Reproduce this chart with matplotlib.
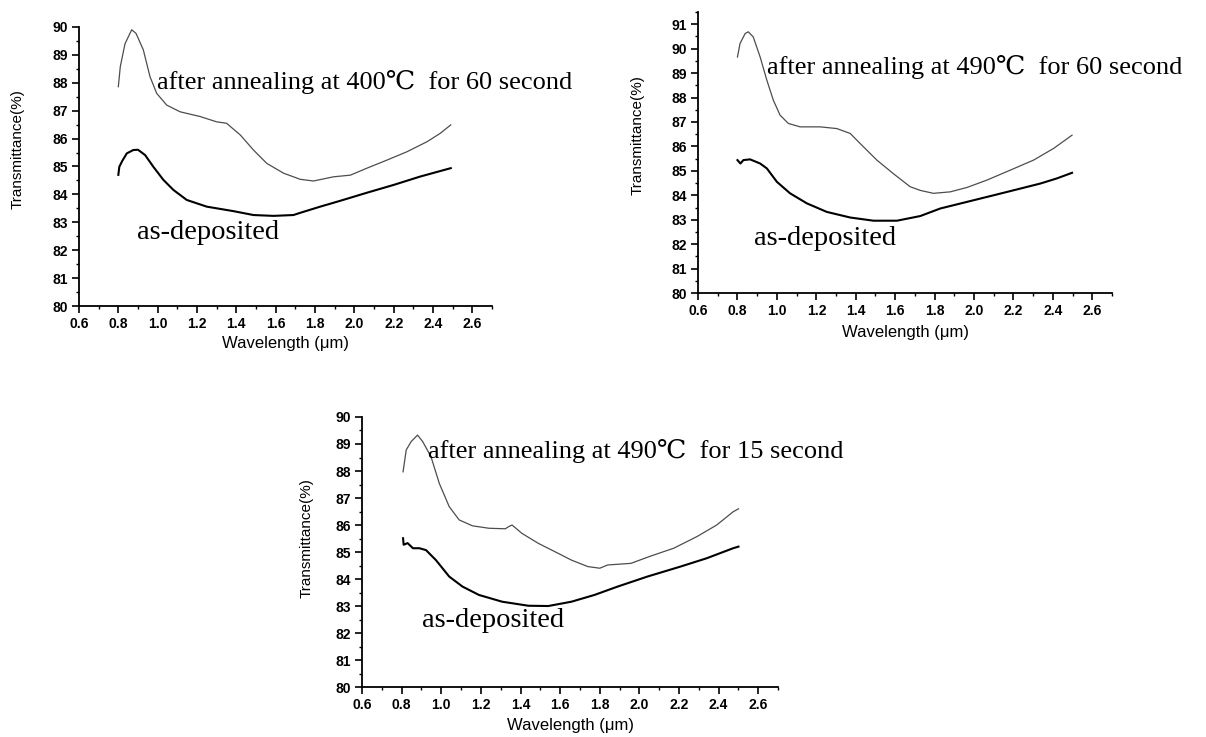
import numpy as np
import matplotlib
matplotlib.use("Agg")
import matplotlib.pyplot as plt
from matplotlib.ticker import MultipleLocator

# panel 1: 400 C, 60 s
p1_ann_x = [0.80, 0.81, 0.834, 0.868, 0.89, 0.927, 0.961, 0.995, 1.046, 1.114, 1.216, 1.30, 1.35, 1.42,
            1.487, 1.555, 1.64, 1.725, 1.792, 1.894, 1.98, 2.064, 2.166, 2.268, 2.37, 2.437, 2.49]
p1_ann_y = [87.86, 88.58, 89.4, 89.9, 89.77, 89.18, 88.22, 87.62, 87.2, 86.96, 86.79, 86.6, 86.55, 86.13,
            85.59, 85.11, 84.76, 84.54, 84.48, 84.63, 84.69, 84.94, 85.23, 85.53, 85.89, 86.19, 86.49]
p1_dep_x = [0.80, 0.805, 0.82, 0.843, 0.876, 0.90, 0.936, 0.978, 1.029, 1.08, 1.148, 1.25, 1.385, 1.487,
            1.589, 1.69, 1.725, 1.826, 1.928, 2.064, 2.20, 2.335, 2.49]
p1_dep_y = [84.7, 84.99, 85.2, 85.47, 85.59, 85.6, 85.41, 84.99, 84.52, 84.16, 83.8, 83.56, 83.4, 83.26,
            83.23, 83.26, 83.34, 83.56, 83.77, 84.06, 84.34, 84.64, 84.94]

# panel 2: 490 C, 60 s
p2_ann_x = [0.80, 0.813, 0.839, 0.855, 0.88, 0.915, 0.949, 0.982, 1.016, 1.058, 1.118, 1.22, 1.304, 1.372,
            1.422, 1.507, 1.59, 1.676, 1.727, 1.794, 1.879, 1.964, 2.065, 2.184, 2.302, 2.404, 2.497]
p2_ann_y = [89.66, 90.21, 90.62, 90.69, 90.48, 89.66, 88.71, 87.89, 87.28, 86.94, 86.8, 86.8, 86.73, 86.53,
            86.12, 85.44, 84.89, 84.35, 84.2, 84.08, 84.14, 84.32, 84.62, 85.03, 85.44, 85.92, 86.46]
p2_dep_x = [0.80, 0.815, 0.83, 0.864, 0.915, 0.949, 1.0, 1.067, 1.152, 1.253, 1.372, 1.49, 1.609, 1.727,
            1.829, 1.964, 2.099, 2.218, 2.336, 2.42, 2.497]
p2_dep_y = [85.44, 85.3, 85.44, 85.47, 85.3, 85.1, 84.55, 84.08, 83.67, 83.32, 83.09, 82.96, 82.96, 83.15,
            83.46, 83.73, 84.0, 84.24, 84.48, 84.69, 84.92]

# panel 3: 490 C, 15 s
p3_ann_x = [0.807, 0.823, 0.848, 0.88, 0.906, 0.948, 0.99, 1.04, 1.09, 1.157, 1.24, 1.323, 1.34, 1.357,
            1.407, 1.49, 1.574, 1.657, 1.74, 1.80, 1.84, 1.957, 2.057, 2.173, 2.29, 2.39, 2.473, 2.50]
p3_ann_y = [87.97, 88.78, 89.09, 89.33, 89.09, 88.53, 87.54, 86.68, 86.19, 85.97, 85.88, 85.86, 85.94, 86.0,
            85.69, 85.32, 85.01, 84.7, 84.46, 84.4, 84.52, 84.58, 84.85, 85.14, 85.57, 86.0, 86.49, 86.6]
p3_dep_x = [0.807, 0.81, 0.83, 0.857, 0.89, 0.923, 0.973, 1.04, 1.107, 1.19, 1.307, 1.44, 1.54, 1.657,
            1.773, 1.89, 2.04, 2.207, 2.34, 2.473, 2.50]
p3_dep_y = [85.51, 85.27, 85.33, 85.14, 85.14, 85.07, 84.7, 84.09, 83.72, 83.41, 83.16, 83.01, 83.0, 83.16,
            83.41, 83.72, 84.09, 84.46, 84.77, 85.14, 85.2]

panels = [
    dict(rect=[0.0655, 0.5848, 0.3425, 0.3786], ylim=(80, 90), ann=(p1_ann_x, p1_ann_y), dep=(p1_dep_x, p1_dep_y),
         label="after annealing at 400\u2103  for 60 second", lab_pos=(0.995, 88.03), dep_pos=(0.895, 82.65),
         ylab=(-0.148, 0.563), xlab=(0.5, -0.133)),
    dict(rect=[0.5788, 0.6024, 0.3433, 0.3813], ylim=(80, 91.5), ann=(p2_ann_x, p2_ann_y), dep=(p2_dep_x, p2_dep_y),
         label="after annealing at 490\u2103  for 60 second", lab_pos=(0.95, 89.24), dep_pos=(0.884, 82.25),
         ylab=(-0.145, 0.562), xlab=(0.5, -0.142)),
    dict(rect=[0.3002, 0.0678, 0.345, 0.3664], ylim=(80, 90), ann=(p3_ann_x, p3_ann_y), dep=(p3_dep_x, p3_dep_y),
         label="after annealing at 490\u2103  for 15 second", lab_pos=(0.935, 88.74), dep_pos=(0.905, 82.48),
         ylab=(-0.132, 0.552), xlab=(0.5, -0.141)),
]

serif = ["Liberation Serif", "DejaVu Serif"]
sans = ["Liberation Sans", "DejaVu Sans"]

fig = plt.figure(figsize=(12.06, 7.37), dpi=100)
for pn in panels:
    ax = fig.add_axes(pn["rect"])
    ax.plot(*pn["ann"], color="0.3", lw=0.9)
    ax.plot(*pn["dep"], color="black", lw=1.5)
    ax.set_xlim(0.6, 2.7)
    ax.set_ylim(*pn["ylim"])
    ax.xaxis.set_minor_locator(MultipleLocator(0.1))
    ax.yaxis.set_minor_locator(MultipleLocator(0.5))
    yt = np.arange(80, int(pn["ylim"][1]) + 1)
    ax.set_yticks(yt)
    ax.set_yticklabels([str(v) for v in yt])
    xt = np.round(np.arange(0.6, 2.61, 0.2), 1)
    ax.set_xticks(xt)
    ax.set_xticklabels([f"{v:.1f}" for v in xt])
    for s in ["top", "right"]:
        ax.spines[s].set_visible(False)
    for s in ["left", "bottom"]:
        ax.spines[s].set_linewidth(1.3)
    ax.tick_params(which="major", direction="out", length=5, width=1.2, labelsize=10, pad=3)
    ax.tick_params(which="minor", direction="out", length=2.5, width=1.0)
    for t in ax.get_xticklabels() + ax.get_yticklabels():
        t.set_fontfamily(sans)
        t.set_fontweight("bold")
    ax.set_ylabel("Transmittance(%)", fontsize=11, family=sans)
    ax.yaxis.set_label_coords(*pn["ylab"])
    ax.yaxis.label.set_verticalalignment("center")
    ax.set_xlabel("Wavelength (\u03bcm)", fontsize=12, family=sans)
    ax.xaxis.set_label_coords(*pn["xlab"])
    ax.xaxis.label.set_verticalalignment("center")
    ax.text(*pn["lab_pos"], pn["label"], fontsize=19, family=serif, va="center", ha="left")
    ax.text(*pn["dep_pos"], "as-deposited", fontsize=20.5, family=serif, va="center", ha="left")

fig.savefig("out.png", dpi=100)
